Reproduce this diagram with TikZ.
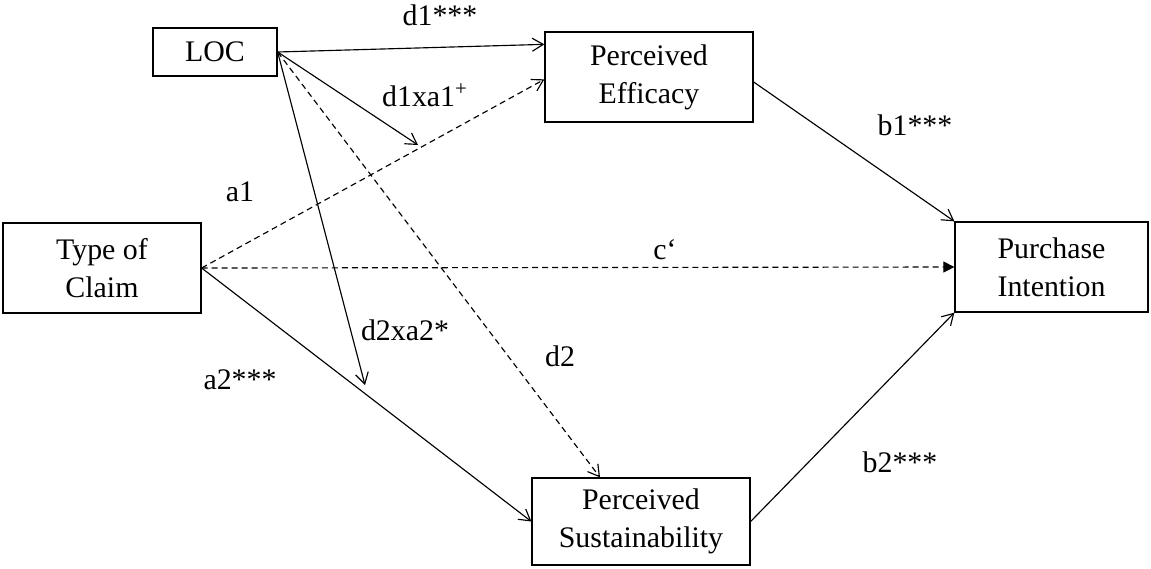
\documentclass[tikz,border=0pt]{standalone}
\usepackage{fontspec}
\setmainfont{Liberation Serif}
\usetikzlibrary{arrows.meta}
\begin{document}
\begin{tikzpicture}[x=0.02cm,y=-0.02cm,
	box/.style={draw, line width=0.75pt, align=center, inner sep=0pt, font=\fontsize{17}{21.5}\selectfont},
	link/.style={line width=0.65pt, -{Straight Barb[length=2.2mm,width=2.6mm]}},
	dashlink/.style={link, dash pattern=on 3.4pt off 2.3pt},
	lbl/.style={inner sep=0pt, font=\fontsize{17}{21.5}\selectfont}]
	%\draw[help lines] (0,0) grid[step=50] (1151,568);
	\useasboundingbox (0,0) rectangle (1151,568);
	%The boxes
	\node [box, minimum width=2.48cm, minimum height=0.96cm] (loc) at (215,52) {LOC};
	\node [box, minimum width=4.16cm, minimum height=1.8cm] (efficacy) at (649,77) {Perceived\\Efficacy};
	\node [box, minimum width=3.96cm, minimum height=1.8cm] (claim) at (102,268) {Type of\\Claim};
	\node [box, minimum width=3.86cm, minimum height=1.8cm] (intention) at (1051.5,267) {Purchase\\Intention};
	\node [box, minimum width=4.36cm, minimum height=1.74cm] (sustain) at (641,521.5) {Perceived\\Sustainability};
	%Free ends of the moderation arrows
	\coordinate (mod1) at (418,145);
	\coordinate (mod2) at (365,385);
	%Arrows from LOC
	\draw [link] (loc.east) -- ([shift={(0,13)}]efficacy.north west);
	\draw [link] (loc.east) -- (mod1);
	\draw [link] (loc.east) -- (mod2);
	\draw [dashlink] (loc.east) -- ([shift={(-41,0)}]sustain.north);
	%Arrows from Type of Claim
	\draw [dashlink] (claim.east) -- ([shift={(0,48)}]efficacy.north west);
	\draw [dashlink, -{Triangle[length=2.2mm,width=2.2mm]}] (claim.east) -- (intention.west);
	\draw [link] (claim.east) -- (sustain.west);
	%Arrows to Purchase Intention
	\draw [link] ([shift={(0,5)}]efficacy.east) -- (intention.north west);
	\draw [link] (sustain.east) -- (intention.south west);
	%The path labels
	\node [lbl] (d1) at (440,15) {d1***};
	\node [lbl] (d1xa1) at (425,95) {d1xa1\textsuperscript{+}};
	\node [lbl] (a1) at (240,192) {a1};
	\node [lbl] (c) at (665,250) {c`};
	\node [lbl] (d2xa2) at (405,330) {d2xa2*};
	\node [lbl] (d2) at (560,356) {d2};
	\node [lbl] (a2) at (240,380) {a2***};
	\node [lbl] (b1) at (915,125) {b1***};
	\node [lbl] (b2) at (900,462) {b2***};
\end{tikzpicture}
\end{document}
